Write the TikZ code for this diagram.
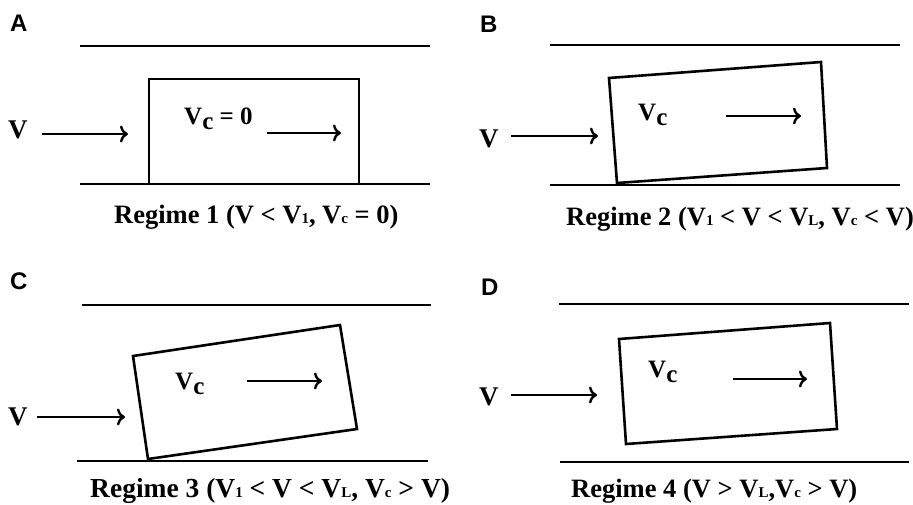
\documentclass[tikz,border=0pt]{standalone}
\usepackage{fontspec}
\setmainfont{Liberation Serif}
\newfontfamily\panelfont{Liberation Sans}
\usetikzlibrary{arrows.meta}
\newcommand{\lo}[1]{\raisebox{-0.5pt}{\fontsize{15}{15}\selectfont #1}}
\newcommand{\vsub}{V\raisebox{-5pt}{c}}
\tikzset{
  wall/.style={line width=2.8pt},
  body/.style={line width=2.6pt, line join=miter},
  flow/.style={line width=2.4pt, -{To[length=8pt,width=17pt,line width=2.4pt]}},
  txt/.style={font=\fontsize{25}{30}\selectfont\bfseries, inner sep=0pt, anchor=base west},
  bigv/.style={font=\fontsize{27}{30}\selectfont\bfseries, inner sep=0pt, anchor=base west},
  captxt/.style={font=\fontsize{26.5}{30}\selectfont\bfseries, inner sep=0pt, anchor=base west},
  panel/.style={font=\fontsize{24}{28}\selectfont\panelfont\bfseries, inner sep=0pt, anchor=base west}
}
\begin{document}
\begin{tikzpicture}[x=1pt,y=-1pt]
\useasboundingbox (0,0) rectangle (913,504);
% ---------- Panel A ----------
\node[panel] (labA) at (10,31) {A};
\coordinate (aT1) at (80,46); \coordinate (aT2) at (430,46);
\coordinate (aB1) at (80,184); \coordinate (aB2) at (430,184);
\draw[wall] (aT1) -- (aT2);
\draw[wall] (aB1) -- (aB2);
\coordinate (a1) at (149,184); \coordinate (a2) at (149,79);
\coordinate (a3) at (359,79); \coordinate (a4) at (359,184);
\draw[body] (a1) -- (a2) -- (a3) -- (a4);
\node[bigv] (vA) at (8,138) {V};
\coordinate (aS) at (42,134); \coordinate (aE) at (128,134);
\draw[flow] (aS) -- (aE);
\node[txt] (vcA) at (184,124) {\vsub{} = 0};
\coordinate (aiS) at (267,133); \coordinate (aiE) at (341,133);
\draw[flow] (aiS) -- (aiE);
\node[captxt] (capA) at (114,223) {Regime 1 (V < V\lo{1}, V\lo{c} = 0)};
% ---------- Panel B ----------
\node[panel] (labB) at (480,32) {B};
\coordinate (bT1) at (550,45); \coordinate (bT2) at (900,45);
\coordinate (bB1) at (550,185); \coordinate (bB2) at (900,185);
\draw[wall] (bT1) -- (bT2);
\draw[wall] (bB1) -- (bB2);
\coordinate (b1) at (609,78); \coordinate (b2) at (821,62);
\coordinate (b3) at (827,168); \coordinate (b4) at (617,183);
\draw[body] (b1) -- (b2) -- (b3) -- (b4) -- cycle;
\node[bigv] (vB) at (479,147) {V};
\coordinate (bS) at (511,136); \coordinate (bE) at (598,136);
\draw[flow] (bS) -- (bE);
\node[txt] (vcB) at (638,120) {\vsub};
\coordinate (biS) at (726,116); \coordinate (biE) at (801,116);
\draw[flow] (biS) -- (biE);
\node[captxt] (capB) at (566,225) {Regime 2 (V\lo{1} < V < V\lo{L}, V\lo{c} < V)};
% ---------- Panel C ----------
\node[panel] (labC) at (10,289) {C};
\coordinate (cT1) at (82,305); \coordinate (cT2) at (431,305);
\coordinate (cB1) at (77,461); \coordinate (cB2) at (428,461);
\draw[wall] (cT1) -- (cT2);
\draw[wall] (cB1) -- (cB2);
\coordinate (c1) at (133,356); \coordinate (c2) at (340,325);
\coordinate (c3) at (357,429); \coordinate (c4) at (148,459);
\draw[body] (c1) -- (c2) -- (c3) -- (c4) -- cycle;
\node[bigv] (vC) at (8,425) {V};
\coordinate (cS) at (37,417); \coordinate (cE) at (125,417);
\draw[flow] (cS) -- (cE);
\node[txt] (vcC) at (175,389) {\vsub};
\coordinate (ciS) at (247,381); \coordinate (ciE) at (322,381);
\draw[flow] (ciS) -- (ciE);
\node[captxt, font=\fontsize{27.5}{32}\selectfont\bfseries] (capC) at (90,497) {Regime 3 (V\lo{1} < V < V\lo{L}, V\lo{c} > V)};
% ---------- Panel D ----------
\node[panel] (labD) at (481,295) {D};
\coordinate (dT1) at (559,304); \coordinate (dT2) at (909,304);
\coordinate (dB1) at (560,462); \coordinate (dB2) at (909,462);
\draw[wall] (dT1) -- (dT2);
\draw[wall] (dB1) -- (dB2);
\coordinate (d1) at (619,339); \coordinate (d2) at (830,323);
\coordinate (d3) at (837,429); \coordinate (d4) at (626,444);
\draw[body] (d1) -- (d2) -- (d3) -- (d4) -- cycle;
\node[bigv] (vD) at (479,405) {V};
\coordinate (dS) at (511,395); \coordinate (dE) at (597,395);
\draw[flow] (dS) -- (dE);
\node[txt] (vcD) at (648,377) {\vsub};
\coordinate (diS) at (733,379); \coordinate (diE) at (807,379);
\draw[flow] (diS) -- (diE);
\node[captxt] (capD) at (571,497) {Regime 4 (V > V\lo{L},V\lo{c} > V)};
\end{tikzpicture}
\end{document}
